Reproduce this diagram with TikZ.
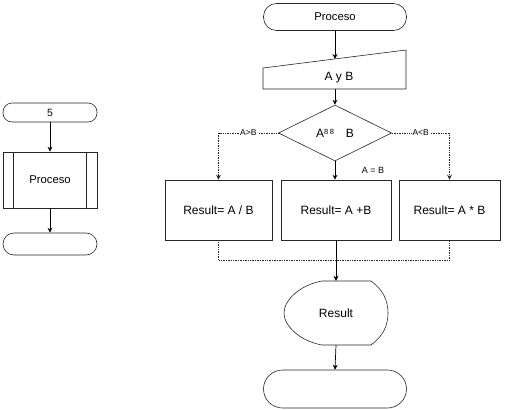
\documentclass[tikz,border=0pt]{standalone}
\usepackage{fontspec}
\setmainfont{Liberation Sans}
\usetikzlibrary{arrows.meta}
\tikzset{>={Stealth[length=5pt,width=5pt]}}
\usetikzlibrary{shapes,positioning}
\usetikzlibrary{backgrounds}
\tikzset{
    terminal/.style={draw=black!85, line width=0.6pt, rectangle, rounded corners=9pt, minimum width=94pt, inner sep=0pt},
    caja/.style={draw=black!85, line width=0.6pt, rectangle, inner sep=0pt},
    decision/.style={draw=black!85, line width=0.6pt, diamond, aspect=2, minimum width=113pt, minimum height=56pt, inner sep=0pt},
    flujo/.style={->, draw=black, line width=0.7pt},
    rama/.style={->, draw=black!85, densely dotted, line width=0.7pt},
    etiqueta/.style={fill=white, inner sep=1pt, font=\fontsize{8.5}{10}\selectfont}
}
\begin{document}
\begin{tikzpicture}[x=1pt,y=-1pt,font=\fontsize{12}{14}\selectfont]
    \useasboundingbox (0,0) rectangle (507,410);
    % left column
    \node[terminal, minimum height=19pt, font=\fontsize{10.5}{12}\selectfont] (ini) at (50,112.5) {5};
    \node[caja, minimum width=94pt, minimum height=56pt, font=\fontsize{11.3}{13}\selectfont] (sub) at (50,180) {Proceso};
    \draw[black!85, line width=0.6pt] ([xshift=11pt]sub.north west) -- ([xshift=11pt]sub.south west);
    \draw[black!85, line width=0.6pt] ([xshift=-11pt]sub.north east) -- ([xshift=-11pt]sub.south east);
    \node[terminal, minimum height=22pt, rounded corners=11pt] (fin) at (50,244) {};
    \draw[flujo] (ini) -- (sub);
    \draw[flujo] (sub) -- (fin);

    % right column
    \node[terminal, minimum width=143pt, minimum height=27pt, rounded corners=13pt, font=\fontsize{11.3}{13}\selectfont] (proc) at (335,17) {Proceso};
    \node[minimum width=143pt, minimum height=22pt, inner sep=0pt] (datos) at (335,78) {\hspace{8pt}A y B};
    \draw[black!85, line width=0.6pt] (263,68) -- (406,50) -- (406,89) -- (263,89) -- cycle;
    \coordinate (datostop) at (335,59);
    \draw[flujo] (proc) -- (datostop);
    \node[decision] (cmp) at (335,133) {A\raisebox{3pt}{\fontsize{7.5}{8}\selectfont 8\hspace{1.5pt}8}\hspace{12pt}B};
    \draw[flujo] (datos) -- (cmp);

    \node[caja, minimum width=107pt, minimum height=60pt] (div) at (218.5,210) {Result= A / B};
    \node[caja, minimum width=110pt, minimum height=60pt] (suma) at (336,210) {Result= A +B};
    \node[caja, minimum width=101pt, minimum height=60pt] (mult) at (449.5,210) {Result= A * B};

    \draw[rama] (cmp.west) -| node[etiqueta, pos=0.25] {A>B} (div.north);
    \draw[rama] (cmp.east) -| node[etiqueta, pos=0.25] {A<B} (mult.north);
    \draw[flujo] (cmp.south) -- (cmp.south |- suma.north);
    \node[etiqueta, font=\fontsize{9}{10}\selectfont] (igual) at (373,170) {A = B};

    % result
    \node[minimum width=104pt, minimum height=64pt, inner sep=0pt] (res) at (336,313) {Result};
    \draw[black!85, line width=0.6pt] (322,281) -- (371,281)
        .. controls (383,290) and (388,300) .. (388,313)
        .. controls (388,326) and (383,336) .. (371,345) -- (322,345)
        .. controls (300,341) and (284,326) .. (284,313)
        .. controls (284,300) and (300,285) .. (322,281);
    \coordinate (junta) at (336,260);
    \draw[black!85, densely dotted, line width=0.7pt] (div.south) |- (junta) -| (mult.south);
    \draw[flujo] (suma.south) -- (res.north);

    \node[terminal, minimum width=143pt, minimum height=38pt, rounded corners=19pt] (fin2) at (335,389) {};
    \draw[flujo] (res.south) -- (fin2.north);
\end{tikzpicture}
\end{document}
